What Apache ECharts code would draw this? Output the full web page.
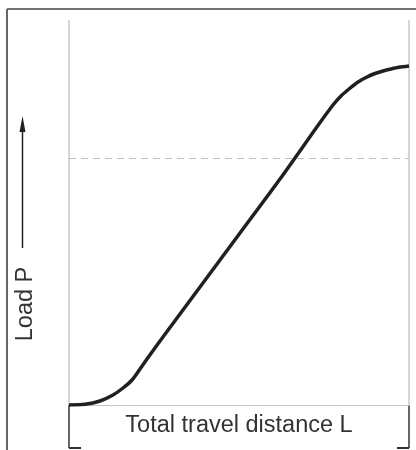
<!DOCTYPE html>
<html>
<head>
<meta charset="utf-8">
<script src="https://cdn.jsdelivr.net/npm/echarts@6/dist/echarts.min.js"></script>
<style>
  html, body { margin: 0; padding: 0; background: #fff; }
  #main { width: 416px; height: 450px; }
</style>
</head>
<body>
<div id="main"></div>
<script>
// travel distance (x) and load (y) in plot units
var travel = [0, 16, 31, 44, 54, 63, 71, 78, 91, 131, 171, 211, 250, 264, 272, 280, 289, 297, 306, 314, 322, 330, 340];
var load = [0, 0.7, 4, 10, 17, 25, 36, 46, 64, 118, 172, 226, 281, 300, 309, 316, 323, 327.5, 331.5, 334, 336, 337.7, 339];
var nominalLoad = 247;
var xMax = 340;
var yMax = 385;

var curve = [];
for (var i = 0; i < travel.length; i++) {
  curve.push([travel[i], load[i]]);
}

var myChart = echarts.init(document.getElementById("main"));
var option = {
  animation: false,
  grid: { left: 69, right: 7, top: 20, bottom: 45 },
  xAxis: {
    type: "value",
    min: 0,
    max: xMax,
    interval: xMax,
    axisLine: { show: true, lineStyle: { color: "#c4c4c4", width: 1 } },
    axisTick: { show: false },
    axisLabel: { show: false },
    splitLine: { show: true, lineStyle: { color: "#c8c8c8", width: 1.5 } },
    name: "Total travel distance L",
    nameLocation: "middle",
    nameGap: 9,
    nameTextStyle: { fontFamily: "Liberation Sans", fontSize: 23.5, color: "#333" },
  },
  yAxis: {
    type: "value",
    min: 0,
    max: yMax,
    axisLine: { show: false },
    axisTick: { show: false },
    axisLabel: { show: false },
    splitLine: { show: false },
  },
  series: [
    {
      type: "line",
      data: curve,
      smooth: 0.25,
      symbol: "none",
      lineStyle: { color: "#231f20", width: 3.5 },
      markLine: {
        silent: true,
        symbol: "none",
        label: { show: false },
        lineStyle: { color: "#bdbdbd", type: [7, 5], width: 1 },
        data: [{ yAxis: nominalLoad }],
      },
    },
  ],
};
myChart.setOption(option);

// 外框、箭头和尺寸线
var p0 = myChart.convertToPixel({ gridIndex: 0 }, [0, 0]);
var p1 = myChart.convertToPixel({ gridIndex: 0 }, [xMax, 0]);
var dark = "#333";
myChart.setOption({
  graphic: [
    { type: "line", shape: { x1: 7, y1: 9, x2: 416, y2: 9 }, style: { stroke: "#444", lineWidth: 1.5 } },
    { type: "line", shape: { x1: 7, y1: 9, x2: 7, y2: 450 }, style: { stroke: "#666", lineWidth: 2 } },
    { type: "line", shape: { x1: p0[0], y1: p0[1], x2: p0[0], y2: 448 }, style: { stroke: dark, lineWidth: 1.5 } },
    { type: "line", shape: { x1: p0[0], y1: 448, x2: p0[0] + 12, y2: 448 }, style: { stroke: dark, lineWidth: 2 } },
    { type: "line", shape: { x1: p1[0], y1: p1[1], x2: p1[0], y2: 448 }, style: { stroke: dark, lineWidth: 1.5 } },
    { type: "line", shape: { x1: p1[0], y1: 448, x2: p1[0] - 12, y2: 448 }, style: { stroke: dark, lineWidth: 2 } },
    { type: "line", shape: { x1: 22.5, y1: 248, x2: 22.5, y2: 128 }, style: { stroke: "#222", lineWidth: 1.5 } },
    { type: "polygon", shape: { points: [[22.5, 116], [19.5, 132], [25.5, 132]] }, style: { fill: "#222" } },
    {
      type: "text",
      x: 26,
      y: 304,
      rotation: Math.PI / 2,
      style: {
        text: "Load P",
        fontFamily: "Liberation Sans",
        fontSize: 23.5,
        fill: "#333",
        align: "center",
        verticalAlign: "middle",
      },
    },
  ],
});
</script>
</body>
</html>
